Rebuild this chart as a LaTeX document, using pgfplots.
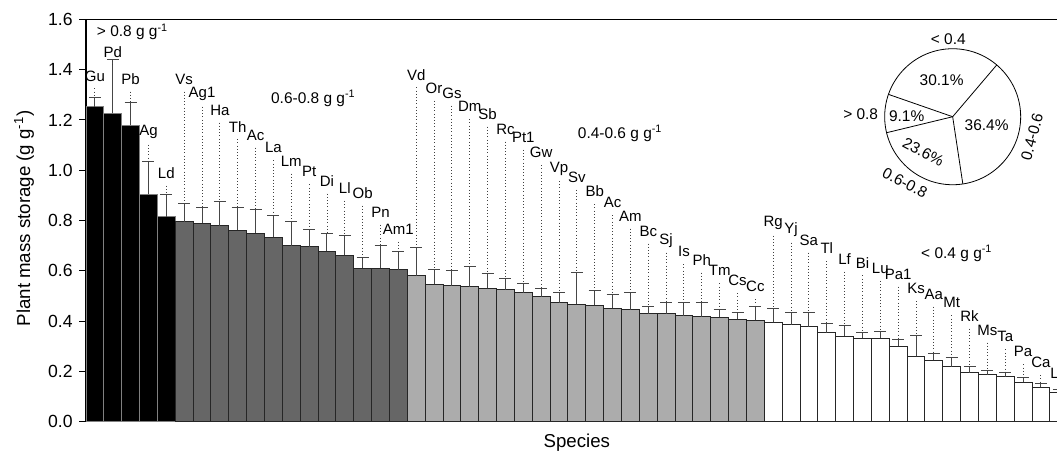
\documentclass[border=0pt]{standalone}
\usepackage{fontspec}
\setmainfont{Liberation Sans}
\usepackage{pgfplots}
\usepackage{pgfplotstable}
\pgfplotsset{compat=1.18}

% x = bar index, val = bar height, top = top of error bar, lab = height of species label
\pgfplotstableread{
x val top lab name
0 1.252 1.288 1.375 Gu
1 1.226 1.441 1.471 Pd
2 1.178 1.268 1.363 Pb
3 0.904 1.034 1.151 Ag
4 0.815 0.904 0.988 Ld
}\grpA
\pgfplotstableread{
x val top lab name
5 0.795 0.868 1.363 Vs
6 0.789 0.850 1.302 Ag1
7 0.779 0.876 1.239 Ha
8 0.762 0.853 1.173 Th
9 0.750 0.842 1.140 Ac
10 0.733 0.819 1.089 La
11 0.700 0.795 1.037 Lm
12 0.695 0.766 0.994 Pt
13 0.677 0.748 0.957 Di
14 0.661 0.741 0.928 Ll
15 0.611 0.652 0.908 Ob
16 0.611 0.700 0.833 Pn
17 0.604 0.676 0.765 Am1
}\grpB
\pgfplotstableread{
x val top lab name
18 0.581 0.693 1.379 Vd
19 0.546 0.604 1.326 Or
20 0.541 0.600 1.306 Gs
21 0.537 0.618 1.253 Dm
22 0.530 0.590 1.223 Sb
23 0.525 0.569 1.164 Rc
24 0.512 0.548 1.131 Pt1
25 0.497 0.529 1.070 Gw
26 0.473 0.512 1.007 Vp
27 0.467 0.595 0.972 Sv
28 0.464 0.520 0.915 Bb
29 0.451 0.507 0.871 Ac
30 0.445 0.512 0.818 Am
31 0.429 0.460 0.758 Bc
32 0.429 0.476 0.722 Sj
33 0.421 0.473 0.676 Is
34 0.418 0.475 0.643 Ph
35 0.416 0.447 0.600 Tm
36 0.408 0.433 0.561 Cs
37 0.403 0.460 0.537 Cc
}\grpC
\pgfplotstableread{
x val top lab name
38 0.395 0.451 0.789 Rg
39 0.386 0.433 0.762 Yj
40 0.378 0.433 0.722 Sa
41 0.353 0.392 0.689 Tl
42 0.341 0.382 0.646 Lf
43 0.332 0.355 0.632 Bi
44 0.332 0.358 0.610 Lu
45 0.301 0.328 0.587 Pa1
46 0.260 0.341 0.530 Ks
47 0.245 0.272 0.507 Aa
48 0.218 0.257 0.473 Mt
49 0.194 0.219 0.420 Rk
50 0.187 0.202 0.365 Ms
51 0.179 0.196 0.338 Ta
52 0.157 0.177 0.278 Pa
53 0.137 0.154 0.235 Ca
54 0.117 0.130 0.192 Lo
}\grpD

\definecolor{dgray}{RGB}{102,102,102}
\definecolor{lgray}{RGB}{172,172,172}
\definecolor{errc}{RGB}{70,70,70}

\pgfplotsset{
  bars/.style={ybar, bar width=1, bar shift=0pt, line width=0.7pt,
    error bars/y dir=plus, error bars/y explicit,
    error bars/error bar style={line width=0.75pt, draw=errc},
    error bars/error mark options={rotate=90, line width=0.75pt, draw=errc, mark size=4.5pt}},
  leaders/.style={only marks, mark=*, mark size=0pt, mark options={draw=none, fill=none}, forget plot,
    error bars/y dir=minus, error bars/y explicit, error bars/error mark=none,
    error bars/error bar style={dotted, line width=0.7pt, draw=black!75}},
  names/.style={only marks, mark=*, mark size=0pt, mark options={draw=none, fill=none}, forget plot, nodes near coords,
    point meta=explicit symbolic, nodes near coords align=center,
    every node near coord/.append style={inner sep=0pt, font=\fontsize{11.25}{13}\selectfont}},
}

\begin{document}
\begin{tikzpicture}[font=\fontsize{11.6}{13}\selectfont]
\begin{axis}[name=main, scale only axis, width=736.3pt, height=301.8pt,
  xmin=-0.5, xmax=54.5, ymin=0, ymax=1.6, clip=false,
  axis lines*=left, axis line style={-, line width=0.8pt},
  xtick=\empty, ytick={0,0.2,0.4,0.6,0.8,1.0,1.2,1.4,1.6},
  tick align=outside, major tick length=5pt, tick style={line width=0.8pt, black},
  yticklabel style={font=\fontsize{13.2}{15}\selectfont, xshift=-1.5pt, /pgf/number format/.cd, fixed, fixed zerofill, precision=1, assume math mode=true},
  xlabel={Species}, ylabel={Plant mass storage (g g\textsuperscript{-1})},
  every axis x label/.style={at={(axis description cs:0.5,0)}, anchor=center, yshift=-15.8pt, font=\fontsize{14}{16}\selectfont},
  every axis y label/.style={at={(axis description cs:0,0.5)}, xshift=-46.5pt, yshift=1.5pt, rotate=90, anchor=center, font=\fontsize{14}{16}\selectfont},
]
\addplot[bars, fill=black, draw=gray] table[x=x, y=val, y error expr=\thisrow{top}-\thisrow{val}]{\grpA};
\addplot[bars, fill=dgray, draw=black!85] table[x=x, y=val, y error expr=\thisrow{top}-\thisrow{val}]{\grpB};
\addplot[bars, fill=lgray, draw=black!85] table[x=x, y=val, y error expr=\thisrow{top}-\thisrow{val}]{\grpC};
\addplot[bars, fill=white, draw=black!85] table[x=x, y=val, y error expr=\thisrow{top}-\thisrow{val}]{\grpD};

\addplot[leaders] table[x=x, y expr=\thisrow{lab}-0.05, y error expr=\thisrow{lab}-0.05-\thisrow{top}]{\grpA};
\addplot[leaders] table[x=x, y expr=\thisrow{lab}-0.05, y error expr=\thisrow{lab}-0.05-\thisrow{top}]{\grpB};
\addplot[leaders] table[x=x, y expr=\thisrow{lab}-0.05, y error expr=\thisrow{lab}-0.05-\thisrow{top}]{\grpC};
\addplot[leaders] table[x=x, y expr=\thisrow{lab}-0.05, y error expr=\thisrow{lab}-0.05-\thisrow{top}]{\grpD};

\addplot[names] table[x=x, y=lab, meta=name]{\grpA};
\addplot[names] table[x=x, y=lab, meta=name]{\grpB};
\addplot[names] table[x=x, y=lab, meta=name]{\grpC};
\addplot[names] table[x=x, y=lab, meta=name]{\grpD};

\draw[line width=0.8pt] (rel axis cs:0,1) -- (rel axis cs:1,1);

\node[anchor=west] at (axis cs:-0.15,1.55) {> 0.8 g g\textsuperscript{-1}};
\node at (axis cs:12.23,1.286) {0.6-0.8 g g\textsuperscript{-1}};
\node at (axis cs:29.42,1.147) {0.4-0.6 g g\textsuperscript{-1}};
\node at (axis cs:48.28,0.670) {< 0.4 g g\textsuperscript{-1}};
\end{axis}

% inset pie chart of the share of species in each class
\begin{scope}[shift={(main.south west)}]
\coordinate (pc) at (650pt,228.75pt);
\draw[line width=0.6pt, fill=white] (pc) circle[radius=51pt];
\foreach \a in {49.6,160.8,193.6,278.6} \draw[line width=0.6pt] (pc) -- ++(\a:51pt);
\node at ([shift={(-8.25pt,27.5pt)}]pc) {30.1\%};
\node at ([shift={(-34.5pt,0.5pt)}]pc) {9.1\%};
\node at ([shift={(25.5pt,-6.25pt)}]pc) {36.4\%};
\node[rotate=-28] at ([shift={(-22pt,-26.25pt)}]pc) {23.6\%};
\node at ([shift={(-3.3pt,58pt)}]pc) {< 0.4};
\node at ([shift={(-69pt,2pt)}]pc) {> 0.8};
\node[rotate=75] at ([shift={(59.5pt,-15pt)}]pc) {0.4-0.6};
\node[rotate=-28] at ([shift={(-35.8pt,-49.5pt)}]pc) {0.6-0.8};
\end{scope}

\pgfresetboundingbox
\path ([shift={(-64.5pt,-24.2pt)}]main.south west) rectangle ([shift={(728.25pt,316.3pt)}]main.south west);
\end{tikzpicture}
\end{document}
